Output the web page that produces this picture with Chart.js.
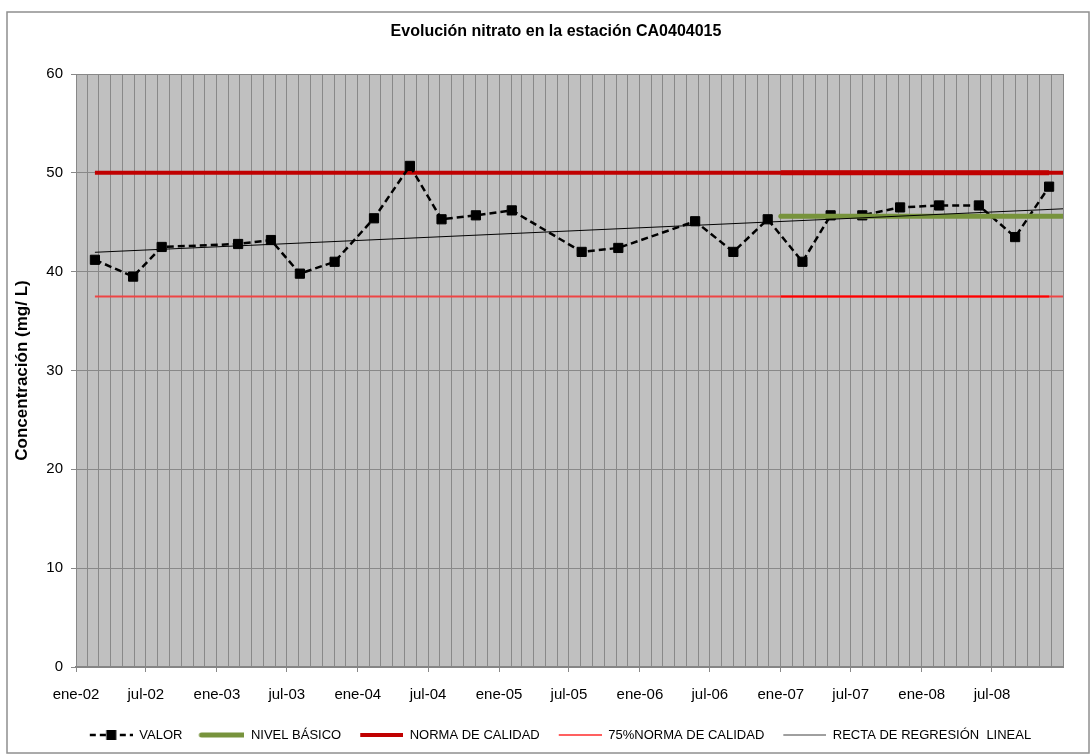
<!DOCTYPE html>
<html>
<head>
<meta charset="utf-8">
<title>Evolución nitrato en la estación CA0404015</title>
<script src="https://cdn.jsdelivr.net/npm/chart.js@4.4.0/dist/chart.umd.min.js"></script>
<style>
  html, body { margin: 0; padding: 0; background: #fff; }
  canvas { display: block; }
</style>
</head>
<body>
<canvas id="myChart" width="1091" height="755"></canvas>
<script>
// Muestras
const fechas = [
  "2002-02-19", "2002-05-29", "2002-08-11", "2003-02-25", "2003-05-21",
  "2003-08-04", "2003-11-02", "2004-02-12", "2004-05-15", "2004-08-05",
  "2004-11-02", "2005-02-03", "2005-08-03", "2005-11-06", "2006-05-24",
  "2006-08-31", "2006-11-28", "2007-02-26", "2007-05-10", "2007-07-31",
  "2007-11-06", "2008-02-15", "2008-05-28", "2008-08-30", "2008-11-26",
];
const valores = [
  41.2, 39.5, 42.5, 42.8, 43.2,
  39.8, 41.0, 45.4, 50.7, 45.3,
  45.7, 46.2, 42.0, 42.4, 45.1,
  42.0, 45.3, 41.0, 45.7, 45.7,
  46.5, 46.7, 46.7, 43.5, 48.6,
];

// Lineas de referencia
const normaFechas = ["2002-02-19", "2009-01-01"];
const norma = [50, 50];
const norma75 = [37.5, 37.5];
const periodoFechas = ["2007-01-01", "2008-11-26"];
const nivelBasicoFechas = ["2007-01-01", "2009-01-01"];
const nivelBasico = [45.6, 45.6];
const regresionFechas = ["2002-02-19", "2009-01-01"];
const regresion = [41.96, 46.36];

// Eje X
const meses = ["ene", "feb", "mar", "abr", "may", "jun", "jul", "ago", "sep", "oct", "nov", "dic"];
const etiquetasX = [
  "ene-02", "jul-02", "ene-03", "jul-03", "ene-04", "jul-04", "ene-05",
  "jul-05", "ene-06", "jul-06", "ene-07", "jul-07", "ene-08", "jul-08",
];
const ejeInicio = "2002-01-01";
const ejeFin = "2009-01-01";

const fuente = "'Liberation Sans', Arial, sans-serif";

function dia(s) {
  const p = s.split("-").map(Number);
  return (Date.UTC(p[0], p[1] - 1, p[2]) - Date.UTC(2002, 0, 1)) / 86400000;
}

function pares(fs, vs) {
  return fs.map((f, i) => ({ x: dia(f), y: vs[i] }));
}

// una marca por mes
let inicioMeses = [];
for (let a = 2002; a <= 2008; a++) {
  for (let m = 0; m < 12; m++) {
    inicioMeses.push((Date.UTC(a, m, 1) - Date.UTC(2002, 0, 1)) / 86400000);
  }
}
inicioMeses.push(dia(ejeFin));

const etiquetaDia = new Map();
for (let i = 0; i < etiquetasX.length; i++) {
  const e = etiquetasX[i];
  const m = meses.indexOf(e.slice(0, 3));
  const a = 2000 + Number(e.slice(4));
  etiquetaDia.set((Date.UTC(a, m, 1) - Date.UTC(2002, 0, 1)) / 86400000, e);
}

// muestras de la leyenda
function muestra(tipo) {
  const c = document.createElement("canvas");
  c.width = 52;
  c.height = 14;
  const g = c.getContext("2d");
  const x0 = 9, x1 = 52, y = 7;
  g.beginPath();
  g.moveTo(x0, y);
  g.lineTo(x1, y);
  if (tipo == "valor") {
    g.strokeStyle = "#000";
    g.lineWidth = 2.5;
    g.setLineDash([6, 4]);
    g.stroke();
    g.setLineDash([]);
    g.fillStyle = "#000";
    g.fillRect((x0 + x1) / 2 - 5, y - 5, 10, 10);
  } else if (tipo == "nivel") {
    g.moveTo(x0 + 3, y);
    g.lineTo(x1 - 3, y);
    g.strokeStyle = "#77933C";
    g.lineWidth = 5;
    g.lineCap = "round";
    g.stroke();
  } else if (tipo == "norma") {
    g.strokeStyle = "#C00000";
    g.lineWidth = 4;
    g.stroke();
  } else if (tipo == "norma75") {
    g.strokeStyle = "#FF6060";
    g.lineWidth = 2;
    g.stroke();
  } else {
    g.strokeStyle = "#404040";
    g.lineWidth = 1;
    g.stroke();
  }
  return c;
}

const leyenda = [
  { text: "VALOR", tipo: "valor" },
  { text: "NIVEL BÁSICO", tipo: "nivel" },
  { text: "NORMA DE CALIDAD", tipo: "norma" },
  { text: "75%NORMA DE CALIDAD", tipo: "norma75" },
  { text: "RECTA DE REGRESIÓN  LINEAL", tipo: "recta" },
];

const fondo = {
  id: "fondo",
  beforeDraw(chart) {
    const ctx = chart.ctx;
    const a = chart.chartArea;
    ctx.save();
    ctx.fillStyle = "#fff";
    ctx.fillRect(0, 0, chart.width, chart.height);
    ctx.strokeStyle = "#8f8f8f";
    ctx.lineWidth = 1.5;
    ctx.strokeRect(7, 12, 1082, 741);
    ctx.fillStyle = "#C0C0C0";
    ctx.fillRect(a.left, a.top, a.right - a.left, a.bottom - a.top);
    ctx.restore();
  },
};

const gris = "#888888";

new Chart("myChart", {
  type: "line",
  data: {
    datasets: [
      {
        label: "RECTA DE REGRESIÓN LINEAL",
        data: pares(regresionFechas, regresion),
        borderColor: "#000",
        borderWidth: 1,
        pointRadius: 0,
        order: 0,
      },
      {
        label: "NIVEL BÁSICO",
        data: pares(nivelBasicoFechas, nivelBasico),
        borderColor: "#77933C",
        borderWidth: 5,
        borderCapStyle: "round",
        pointRadius: 0,
        order: 1,
      },
      {
        label: "VALOR",
        data: pares(fechas, valores),
        borderColor: "#000",
        borderWidth: 2.5,
        borderDash: [7, 4],
        pointStyle: "rect",
        pointRadius: 6.5,
        pointBackgroundColor: "#000",
        pointBorderColor: "#000",
        pointBorderWidth: 1,
        order: 2,
      },
      {
        label: "NORMA periodo",
        data: pares(periodoFechas, norma),
        borderColor: "#C00000",
        borderWidth: 5,
        pointRadius: 0,
        order: 3,
      },
      {
        label: "75% periodo",
        data: pares(periodoFechas, norma75),
        borderColor: "#FF0000",
        borderWidth: 2,
        pointRadius: 0,
        order: 3,
      },
      {
        label: "NORMA DE CALIDAD",
        data: pares(normaFechas, norma),
        borderColor: "#C00000",
        borderWidth: 4,
        pointRadius: 0,
        order: 4,
      },
      {
        label: "75%NORMA DE CALIDAD",
        data: pares(normaFechas, norma75),
        borderColor: "#EE4444",
        borderWidth: 2,
        pointRadius: 0,
        order: 4,
      },
    ],
  },
  options: {
    responsive: false,
    devicePixelRatio: 1,
    animation: false,
    events: [],
    layout: { padding: { left: 21, right: 0, top: 0, bottom: 3.5 } },
    plugins: {
      title: {
        display: true,
        text: "Evolución nitrato en la estación CA0404015",
        color: "#000",
        font: { family: fuente, size: 16, weight: "bold" },
        padding: { top: 22, bottom: 32.8 },
      },
      legend: {
        position: "bottom",
        labels: {
          color: "#000",
          font: { family: fuente, size: 13 },
          padding: 10,
          boxHeight: 13,
          usePointStyle: true,
          pointStyleWidth: 52,
          generateLabels: () =>
            leyenda.map((l) => ({
              text: l.text,
              pointStyle: muestra(l.tipo),
              fillStyle: "transparent",
              strokeStyle: "transparent",
              lineWidth: 0,
              hidden: false,
            })),
        },
      },
      tooltip: { enabled: false },
    },
    scales: {
      x: {
        type: "linear",
        min: dia(ejeInicio),
        max: dia(ejeFin),
        afterBuildTicks: (scale) => {
          scale.ticks = inicioMeses.map((v) => ({ value: v }));
        },
        afterFit: (scale) => {
          scale.height = 51.5;
        },
        ticks: {
          autoSkip: false,
          maxRotation: 0,
          padding: 14,
          color: "#000",
          font: { family: fuente, size: 15 },
          callback: (v) => etiquetaDia.get(v) || "",
        },
        grid: {
          color: gris,
          lineWidth: 1,
          tickLength: 5,
          tickColor: (ctx) => (ctx.tick && etiquetaDia.has(ctx.tick.value) ? gris : "rgba(0,0,0,0)"),
        },
        border: { color: "#858585", width: 2 },
      },
      y: {
        min: 0,
        max: 60,
        afterFit: (scale) => {
          scale.width = 55;
        },
        ticks: {
          stepSize: 10,
          padding: 8,
          color: "#000",
          font: { family: fuente, size: 15 },
        },
        grid: { color: gris, lineWidth: 1, tickLength: 5 },
        border: { color: gris },
        title: {
          display: true,
          text: "Concentración (mg/ L)",
          color: "#000",
          font: { family: fuente, size: 17, weight: "bold" },
          padding: { top: -9, bottom: 0 },
        },
      },
      derecha: {
        position: "right",
        display: true,
        ticks: { display: false },
        grid: { display: false },
        border: { display: false },
        afterFit: (scale) => {
          scale.width = 28;
        },
      },
    },
  },
  plugins: [fondo],
});
</script>
</body>
</html>
